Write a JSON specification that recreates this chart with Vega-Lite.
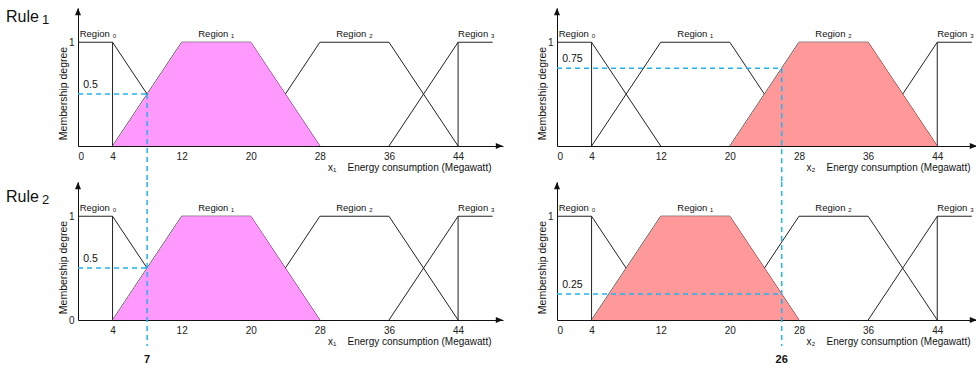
{
  "$schema": "https://vega.github.io/schema/vega-lite/v6.json",
  "padding": {"left": 5, "top": 8, "right": 0, "bottom": 0},
  "background": "white",
  "config": {
    "view": {"stroke": null},
    "font": "Liberation Sans",
    "axis": {
      "domainColor": "#111", "domainWidth": 1, "ticks": false, "tickSize": 0, "grid": false,
      "labelFont": "Liberation Sans", "labelFontSize": 10, "labelColor": "#222", "format": "~g",
      "titleFont": "Liberation Sans", "titleFontSize": 10, "titleFontWeight": "normal", "titleColor": "#111"
    },
    "axisX": {"labelPadding": 5, "titleAnchor": "end", "titleAlign": "right", "titleX": 413, "titleY": 24, "titleBaseline": "alphabetic"},
    "axisY": {"labelPadding": 4, "titleX": -10, "titleY": 85, "titleAlign": "center", "titleFontSize": 10.5},
    "text": {"font": "Liberation Sans", "color": "#111"}
  },
  "datasets": {
    "mf": [
      {"s": "r0", "o": 1, "x": 0, "y": 1}, {"s": "r0", "o": 2, "x": 4, "y": 1}, {"s": "r0", "o": 3, "x": 12, "y": 0},
      {"s": "r0v", "o": 1, "x": 4, "y": 0}, {"s": "r0v", "o": 2, "x": 4, "y": 1},
      {"s": "r1", "o": 1, "x": 4, "y": 0}, {"s": "r1", "o": 2, "x": 12, "y": 1}, {"s": "r1", "o": 3, "x": 20, "y": 1}, {"s": "r1", "o": 4, "x": 28, "y": 0},
      {"s": "r2", "o": 1, "x": 20, "y": 0}, {"s": "r2", "o": 2, "x": 28, "y": 1}, {"s": "r2", "o": 3, "x": 36, "y": 1}, {"s": "r2", "o": 4, "x": 44, "y": 0},
      {"s": "r3", "o": 1, "x": 36, "y": 0}, {"s": "r3", "o": 2, "x": 44, "y": 1}, {"s": "r3", "o": 3, "x": 48, "y": 1},
      {"s": "r3v", "o": 1, "x": 44, "y": 0}, {"s": "r3v", "o": 2, "x": 44, "y": 1}
    ],
    "fill": [
      {"p": "TL", "x": 4, "y": 0}, {"p": "TL", "x": 12, "y": 1}, {"p": "TL", "x": 20, "y": 1}, {"p": "TL", "x": 28, "y": 0},
      {"p": "BL", "x": 4, "y": 0}, {"p": "BL", "x": 12, "y": 1}, {"p": "BL", "x": 20, "y": 1}, {"p": "BL", "x": 28, "y": 0},
      {"p": "TR", "x": 20, "y": 0}, {"p": "TR", "x": 28, "y": 1}, {"p": "TR", "x": 36, "y": 1}, {"p": "TR", "x": 44, "y": 0},
      {"p": "BR", "x": 4, "y": 0}, {"p": "BR", "x": 12, "y": 1}, {"p": "BR", "x": 20, "y": 1}, {"p": "BR", "x": 28, "y": 0}
    ],
    "guide": [
      {"p": "TL", "x": 0, "x2": 8, "y": 0.5, "y2": 0.5}, {"p": "TL", "x": 8, "x2": 8, "y": 0.5, "y2": -0.35},
      {"p": "BL", "x": 0, "x2": 8, "y": 0.5, "y2": 0.5}, {"p": "BL", "x": 8, "x2": 8, "y": 1.33, "y2": -0.25},
      {"p": "TR", "x": 0, "x2": 26, "y": 0.75, "y2": 0.75}, {"p": "TR", "x": 26, "x2": 26, "y": 0.75, "y2": -0.35},
      {"p": "BR", "x": 0, "x2": 26, "y": 0.25, "y2": 0.25}, {"p": "BR", "x": 26, "x2": 26, "y": 1.33, "y2": -0.25}
    ],
    "deg": [
      {"p": "TL", "x": 0.6, "y": 0.5, "t": "0.5"},
      {"p": "BL", "x": 0.6, "y": 0.5, "t": "0.5"},
      {"p": "TR", "x": 0.6, "y": 0.75, "t": "0.75"},
      {"p": "BR", "x": 0.6, "y": 0.25, "t": "0.25"}
    ],
    "val": [
      {"p": "BL", "x": 8, "y": -0.385, "t": "7"},
      {"p": "BR", "x": 26, "y": -0.385, "t": "26"}
    ],
    "regEdge": [
      {"x": 0.2, "y": 1, "t": "Region ₀"},
      {"x": 44, "y": 1, "t": "Region ₃"}
    ],
    "regMid": [
      {"x": 16, "y": 1, "t": "Region ₁"},
      {"x": 32, "y": 1, "t": "Region ₂"}
    ],
    "rule": [
      {"p": "TL", "x": -8.34, "y": 1.195, "t": "Rule", "n": "1"},
      {"p": "BL", "x": -8.34, "y": 1.14, "t": "Rule", "n": "2"}
    ],
    "arrowUp": [{"x": 0, "y": 1.33}],
    "arrowRight": [{"c": "L", "x": 49.2, "y": 0}, {"c": "R", "x": 48.6, "y": 0}]
  },
  "columns": 2,
  "spacing": {"row": 36, "column": 54},
  "bounds": "flush",
  "concat": [
    {
      "width": 425, "height": 138,
      "layer": [
        {"data": {"name": "mf"}, "mark": {"type": "line", "color": "#222", "strokeWidth": 1},
         "encoding": {
           "x": {"field": "x", "type": "quantitative", "scale": {"domain": [0, 49.2], "nice": false}, "axis": {"values": [0, 4, 12, 20, 28, 36, 44], "title": "x₁\u00a0\u00a0\u00a0 Energy consumption (Megawatt)"}},
           "y": {"field": "y", "type": "quantitative", "scale": {"domain": [0, 1.33], "nice": false}, "axis": {"values": [1], "title": "Membership degree"}},
           "detail": {"field": "s"}, "order": {"field": "o"}}},
        {"data": {"name": "fill"}, "transform": [{"filter": "datum.p == 'TL'"}], "mark": {"type": "area", "color": "#FF99FF", "opacity": 1},
         "encoding": {"x": {"field": "x", "type": "quantitative"}, "y": {"field": "y", "type": "quantitative"}}},
        {"data": {"name": "guide"}, "transform": [{"filter": "datum.p == 'TL'"}], "mark": {"type": "rule", "color": "#22B2F2", "strokeWidth": 1.5, "strokeDash": [5, 4]},
         "encoding": {"x": {"field": "x", "type": "quantitative"}, "x2": {"field": "x2"}, "y": {"field": "y", "type": "quantitative"}, "y2": {"field": "y2"}}},
        {"data": {"name": "arrowUp"}, "mark": {"type": "point", "shape": "M0,0L-0.75,1.8L0.75,1.8Z", "filled": true, "color": "#111", "opacity": 1, "size": 64},
         "encoding": {"x": {"field": "x", "type": "quantitative"}, "y": {"field": "y", "type": "quantitative"}}},
        {"data": {"name": "arrowRight"}, "transform": [{"filter": "datum.c == 'L'"}], "mark": {"type": "point", "shape": "M0,0L-1.8,-0.75L-1.8,0.75Z", "filled": true, "color": "#111", "opacity": 1, "size": 64},
         "encoding": {"x": {"field": "x", "type": "quantitative"}, "y": {"field": "y", "type": "quantitative"}}},
        {"data": {"name": "deg"}, "transform": [{"filter": "datum.p == 'TL'"}], "mark": {"type": "text", "align": "left", "baseline": "alphabetic", "dy": -6, "fontSize": 10.5},
         "encoding": {"x": {"field": "x", "type": "quantitative"}, "y": {"field": "y", "type": "quantitative"}, "text": {"field": "t"}}},
        {"data": {"name": "regEdge"}, "mark": {"type": "text", "align": "left", "baseline": "alphabetic", "dy": -5.5, "fontSize": 9.5},
         "encoding": {"x": {"field": "x", "type": "quantitative"}, "y": {"field": "y", "type": "quantitative"}, "text": {"field": "t"}}},
        {"data": {"name": "regMid"}, "mark": {"type": "text", "align": "center", "baseline": "alphabetic", "dy": -5.5, "fontSize": 9.5},
         "encoding": {"x": {"field": "x", "type": "quantitative"}, "y": {"field": "y", "type": "quantitative"}, "text": {"field": "t"}}},
        {"data": {"name": "rule"}, "transform": [{"filter": "datum.p == 'TL'"}], "mark": {"type": "text", "align": "left", "baseline": "alphabetic", "fontSize": 16},
         "encoding": {"x": {"field": "x", "type": "quantitative"}, "y": {"field": "y", "type": "quantitative"}, "text": {"field": "t"}}},
        {"data": {"name": "rule"}, "transform": [{"filter": "datum.p == 'TL'"}], "mark": {"type": "text", "align": "left", "baseline": "alphabetic", "fontSize": 13, "dx": 36, "dy": 2},
         "encoding": {"x": {"field": "x", "type": "quantitative"}, "y": {"field": "y", "type": "quantitative"}, "text": {"field": "n"}}}
      ]
    },
    {
      "width": 420, "height": 138,
      "layer": [
        {"data": {"name": "mf"}, "mark": {"type": "line", "color": "#222", "strokeWidth": 1},
         "encoding": {
           "x": {"field": "x", "type": "quantitative", "scale": {"domain": [0, 48.6], "nice": false}, "axis": {"values": [0, 4, 12, 20, 28, 36, 44], "title": "x₂\u00a0\u00a0\u00a0 Energy consumption (Megawatt)"}},
           "y": {"field": "y", "type": "quantitative", "scale": {"domain": [0, 1.33], "nice": false}, "axis": {"values": [1], "title": "Membership degree"}},
           "detail": {"field": "s"}, "order": {"field": "o"}}},
        {"data": {"name": "fill"}, "transform": [{"filter": "datum.p == 'TR'"}], "mark": {"type": "area", "color": "#FF9999", "opacity": 1},
         "encoding": {"x": {"field": "x", "type": "quantitative"}, "y": {"field": "y", "type": "quantitative"}}},
        {"data": {"name": "guide"}, "transform": [{"filter": "datum.p == 'TR'"}], "mark": {"type": "rule", "color": "#22B2F2", "strokeWidth": 1.5, "strokeDash": [5, 4]},
         "encoding": {"x": {"field": "x", "type": "quantitative"}, "x2": {"field": "x2"}, "y": {"field": "y", "type": "quantitative"}, "y2": {"field": "y2"}}},
        {"data": {"name": "arrowUp"}, "mark": {"type": "point", "shape": "M0,0L-0.75,1.8L0.75,1.8Z", "filled": true, "color": "#111", "opacity": 1, "size": 64},
         "encoding": {"x": {"field": "x", "type": "quantitative"}, "y": {"field": "y", "type": "quantitative"}}},
        {"data": {"name": "arrowRight"}, "transform": [{"filter": "datum.c == 'R'"}], "mark": {"type": "point", "shape": "M0,0L-1.8,-0.75L-1.8,0.75Z", "filled": true, "color": "#111", "opacity": 1, "size": 64},
         "encoding": {"x": {"field": "x", "type": "quantitative"}, "y": {"field": "y", "type": "quantitative"}}},
        {"data": {"name": "deg"}, "transform": [{"filter": "datum.p == 'TR'"}], "mark": {"type": "text", "align": "left", "baseline": "alphabetic", "dy": -6, "fontSize": 10.5},
         "encoding": {"x": {"field": "x", "type": "quantitative"}, "y": {"field": "y", "type": "quantitative"}, "text": {"field": "t"}}},
        {"data": {"name": "regEdge"}, "mark": {"type": "text", "align": "left", "baseline": "alphabetic", "dy": -5.5, "fontSize": 9.5},
         "encoding": {"x": {"field": "x", "type": "quantitative"}, "y": {"field": "y", "type": "quantitative"}, "text": {"field": "t"}}},
        {"data": {"name": "regMid"}, "mark": {"type": "text", "align": "center", "baseline": "alphabetic", "dy": -5.5, "fontSize": 9.5},
         "encoding": {"x": {"field": "x", "type": "quantitative"}, "y": {"field": "y", "type": "quantitative"}, "text": {"field": "t"}}}
      ]
    },
    {
      "width": 425, "height": 138,
      "layer": [
        {"data": {"name": "mf"}, "mark": {"type": "line", "color": "#222", "strokeWidth": 1},
         "encoding": {
           "x": {"field": "x", "type": "quantitative", "scale": {"domain": [0, 49.2], "nice": false}, "axis": {"values": [4, 12, 20, 28, 36, 44], "title": "x₁\u00a0\u00a0\u00a0 Energy consumption (Megawatt)"}},
           "y": {"field": "y", "type": "quantitative", "scale": {"domain": [0, 1.33], "nice": false}, "axis": {"values": [0, 1], "title": "Membership degree"}},
           "detail": {"field": "s"}, "order": {"field": "o"}}},
        {"data": {"name": "fill"}, "transform": [{"filter": "datum.p == 'BL'"}], "mark": {"type": "area", "color": "#FF99FF", "opacity": 1},
         "encoding": {"x": {"field": "x", "type": "quantitative"}, "y": {"field": "y", "type": "quantitative"}}},
        {"data": {"name": "guide"}, "transform": [{"filter": "datum.p == 'BL'"}], "mark": {"type": "rule", "color": "#22B2F2", "strokeWidth": 1.5, "strokeDash": [5, 4]},
         "encoding": {"x": {"field": "x", "type": "quantitative"}, "x2": {"field": "x2"}, "y": {"field": "y", "type": "quantitative"}, "y2": {"field": "y2"}}},
        {"data": {"name": "arrowUp"}, "mark": {"type": "point", "shape": "M0,0L-0.75,1.8L0.75,1.8Z", "filled": true, "color": "#111", "opacity": 1, "size": 64},
         "encoding": {"x": {"field": "x", "type": "quantitative"}, "y": {"field": "y", "type": "quantitative"}}},
        {"data": {"name": "arrowRight"}, "transform": [{"filter": "datum.c == 'L'"}], "mark": {"type": "point", "shape": "M0,0L-1.8,-0.75L-1.8,0.75Z", "filled": true, "color": "#111", "opacity": 1, "size": 64},
         "encoding": {"x": {"field": "x", "type": "quantitative"}, "y": {"field": "y", "type": "quantitative"}}},
        {"data": {"name": "deg"}, "transform": [{"filter": "datum.p == 'BL'"}], "mark": {"type": "text", "align": "left", "baseline": "alphabetic", "dy": -6, "fontSize": 10.5},
         "encoding": {"x": {"field": "x", "type": "quantitative"}, "y": {"field": "y", "type": "quantitative"}, "text": {"field": "t"}}},
        {"data": {"name": "val"}, "transform": [{"filter": "datum.p == 'BL'"}], "mark": {"type": "text", "align": "center", "baseline": "middle", "fontSize": 11, "fontWeight": "bold"},
         "encoding": {"x": {"field": "x", "type": "quantitative"}, "y": {"field": "y", "type": "quantitative"}, "text": {"field": "t"}}},
        {"data": {"name": "regEdge"}, "mark": {"type": "text", "align": "left", "baseline": "alphabetic", "dy": -5.5, "fontSize": 9.5},
         "encoding": {"x": {"field": "x", "type": "quantitative"}, "y": {"field": "y", "type": "quantitative"}, "text": {"field": "t"}}},
        {"data": {"name": "regMid"}, "mark": {"type": "text", "align": "center", "baseline": "alphabetic", "dy": -5.5, "fontSize": 9.5},
         "encoding": {"x": {"field": "x", "type": "quantitative"}, "y": {"field": "y", "type": "quantitative"}, "text": {"field": "t"}}},
        {"data": {"name": "rule"}, "transform": [{"filter": "datum.p == 'BL'"}], "mark": {"type": "text", "align": "left", "baseline": "alphabetic", "fontSize": 16},
         "encoding": {"x": {"field": "x", "type": "quantitative"}, "y": {"field": "y", "type": "quantitative"}, "text": {"field": "t"}}},
        {"data": {"name": "rule"}, "transform": [{"filter": "datum.p == 'BL'"}], "mark": {"type": "text", "align": "left", "baseline": "alphabetic", "fontSize": 13, "dx": 36, "dy": 2},
         "encoding": {"x": {"field": "x", "type": "quantitative"}, "y": {"field": "y", "type": "quantitative"}, "text": {"field": "n"}}}
      ]
    },
    {
      "width": 420, "height": 138,
      "layer": [
        {"data": {"name": "mf"}, "mark": {"type": "line", "color": "#222", "strokeWidth": 1},
         "encoding": {
           "x": {"field": "x", "type": "quantitative", "scale": {"domain": [0, 48.6], "nice": false}, "axis": {"values": [0, 4, 12, 20, 28, 36, 44], "title": "x₂\u00a0\u00a0\u00a0 Energy consumption (Megawatt)"}},
           "y": {"field": "y", "type": "quantitative", "scale": {"domain": [0, 1.33], "nice": false}, "axis": {"values": [1], "title": "Membership degree"}},
           "detail": {"field": "s"}, "order": {"field": "o"}}},
        {"data": {"name": "fill"}, "transform": [{"filter": "datum.p == 'BR'"}], "mark": {"type": "area", "color": "#FF9999", "opacity": 1},
         "encoding": {"x": {"field": "x", "type": "quantitative"}, "y": {"field": "y", "type": "quantitative"}}},
        {"data": {"name": "guide"}, "transform": [{"filter": "datum.p == 'BR'"}], "mark": {"type": "rule", "color": "#22B2F2", "strokeWidth": 1.5, "strokeDash": [5, 4]},
         "encoding": {"x": {"field": "x", "type": "quantitative"}, "x2": {"field": "x2"}, "y": {"field": "y", "type": "quantitative"}, "y2": {"field": "y2"}}},
        {"data": {"name": "arrowUp"}, "mark": {"type": "point", "shape": "M0,0L-0.75,1.8L0.75,1.8Z", "filled": true, "color": "#111", "opacity": 1, "size": 64},
         "encoding": {"x": {"field": "x", "type": "quantitative"}, "y": {"field": "y", "type": "quantitative"}}},
        {"data": {"name": "arrowRight"}, "transform": [{"filter": "datum.c == 'R'"}], "mark": {"type": "point", "shape": "M0,0L-1.8,-0.75L-1.8,0.75Z", "filled": true, "color": "#111", "opacity": 1, "size": 64},
         "encoding": {"x": {"field": "x", "type": "quantitative"}, "y": {"field": "y", "type": "quantitative"}}},
        {"data": {"name": "deg"}, "transform": [{"filter": "datum.p == 'BR'"}], "mark": {"type": "text", "align": "left", "baseline": "alphabetic", "dy": -6, "fontSize": 10.5},
         "encoding": {"x": {"field": "x", "type": "quantitative"}, "y": {"field": "y", "type": "quantitative"}, "text": {"field": "t"}}},
        {"data": {"name": "val"}, "transform": [{"filter": "datum.p == 'BR'"}], "mark": {"type": "text", "align": "center", "baseline": "middle", "fontSize": 11, "fontWeight": "bold"},
         "encoding": {"x": {"field": "x", "type": "quantitative"}, "y": {"field": "y", "type": "quantitative"}, "text": {"field": "t"}}},
        {"data": {"name": "regEdge"}, "mark": {"type": "text", "align": "left", "baseline": "alphabetic", "dy": -5.5, "fontSize": 9.5},
         "encoding": {"x": {"field": "x", "type": "quantitative"}, "y": {"field": "y", "type": "quantitative"}, "text": {"field": "t"}}},
        {"data": {"name": "regMid"}, "mark": {"type": "text", "align": "center", "baseline": "alphabetic", "dy": -5.5, "fontSize": 9.5},
         "encoding": {"x": {"field": "x", "type": "quantitative"}, "y": {"field": "y", "type": "quantitative"}, "text": {"field": "t"}}}
      ]
    }
  ]
}
